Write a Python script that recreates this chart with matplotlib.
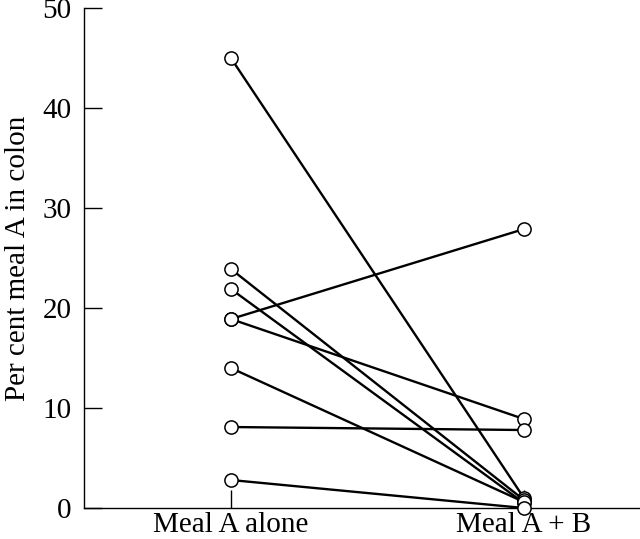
import matplotlib
matplotlib.use("Agg")
import matplotlib.pyplot as plt

conditions = ["Meal A alone", "Meal A + B"]
meal_a_alone = [45, 23.9, 21.9, 18.9, 18.9, 14.0, 8.1, 2.8]
meal_a_plus_b = [1.0, 0.8, 0.5, 27.9, 8.9, 0.6, 7.8, 0.0]
y_ticks = [0, 10, 20, 30, 40, 50]

plt.rcParams["font.family"] = ["Liberation Serif", "DejaVu Serif"]
plt.rcParams["font.size"] = 21

fig = plt.figure(figsize=(6.4, 5.39), dpi=100)
ax = fig.add_axes([0.131, 0.0575, 0.869, 0.9275])

positions = [0, 1]
for before, after in zip(meal_a_alone, meal_a_plus_b):
    ax.plot(positions, [before, after], "-", color="black", linewidth=1.7,
            marker="o", ms=9.5, markerfacecolor="white", markeredgecolor="black",
            markeredgewidth=1.1, clip_on=False, zorder=3)

ax.set_xlim(-0.502, 1.396)
ax.set_ylim(0, 50)
ax.set_xticks(positions)
ax.set_xticklabels(conditions)
ax.set_yticks(y_ticks)
ax.set_ylabel("Per cent meal A in colon", labelpad=8)
ax.spines["top"].set_visible(False)
ax.spines["right"].set_visible(False)
for side in ["left", "bottom"]:
    ax.spines[side].set_linewidth(1.0)
ax.tick_params(direction="in", length=13, width=1.0)
ax.tick_params(axis="y", pad=9)
ax.tick_params(axis="x", pad=3)

fig.savefig("out.png", dpi=100)
